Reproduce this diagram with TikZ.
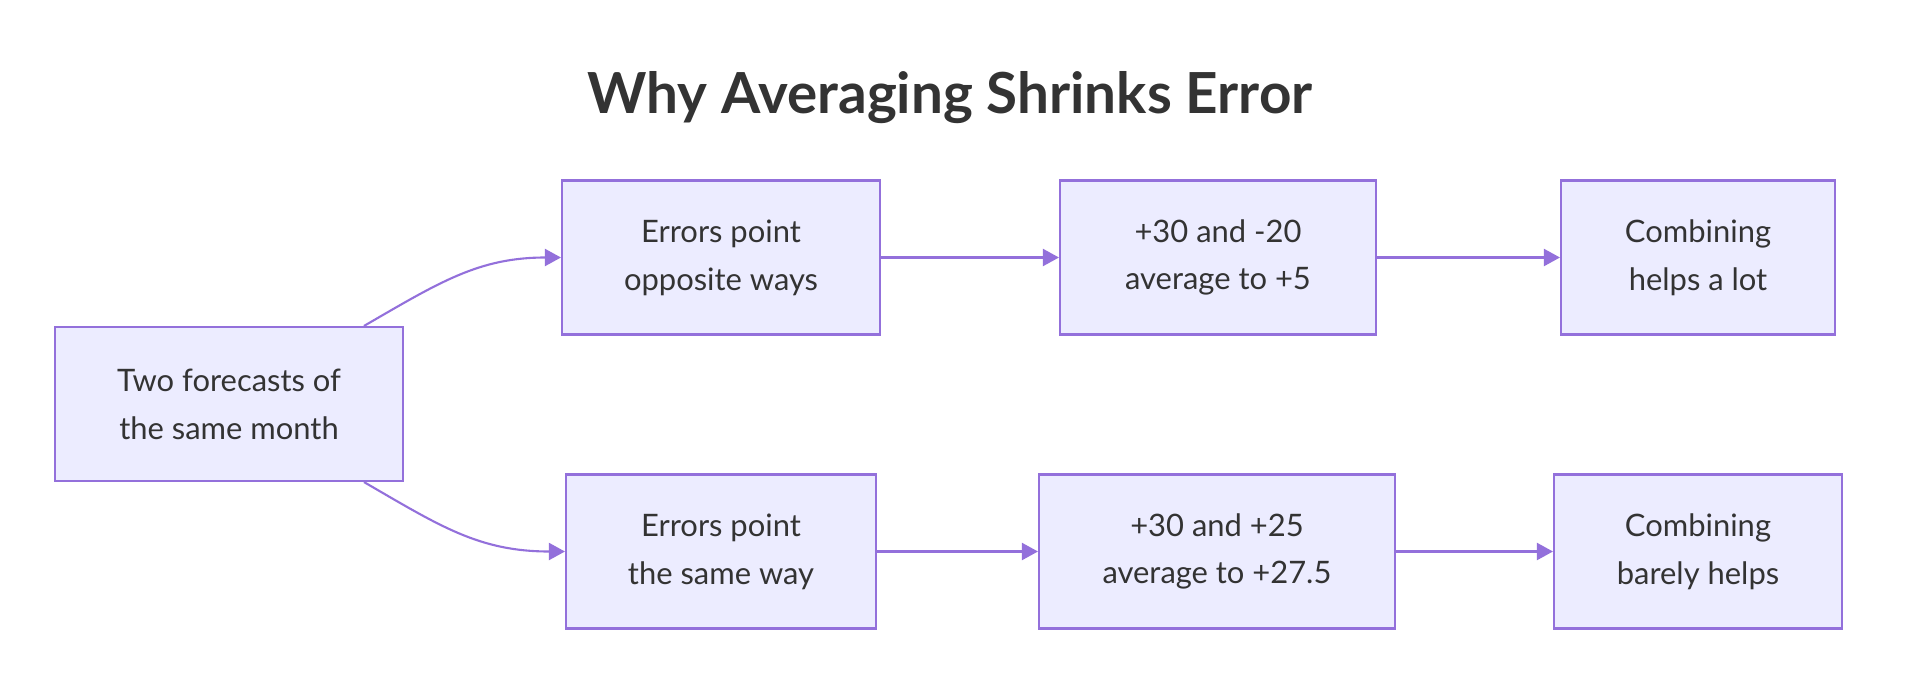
\documentclass[tikz,border=0pt]{standalone}
\usepackage{fontspec}
\setmainfont{Lato}
\usetikzlibrary{arrows.meta}
\definecolor{boxfill}{HTML}{ECECFF}
\definecolor{boxline}{HTML}{9370DB}
\definecolor{textgray}{HTML}{333333}

\begin{document}
\begin{tikzpicture}[
	box/.style={draw=boxline, fill=boxfill, line width=0.6pt, minimum height=1.54cm, align=center, text=textgray, font=\fontsize{8.8}{13.6}\selectfont},
	flow/.style={draw=boxline, line width=0.6pt, -{Triangle[length=1.6mm, width=1.7mm]}}]
		\useasboundingbox (0,0) rectangle (19.14,-6.9);

		\node[text=textgray, font=\bfseries\fontsize{16.1}{19}\selectfont] (title) at (9.5,-0.98) {Why Averaging Shrinks Error};

		\node[box, minimum width=3.48cm] (src) at (2.29,-4.04) {Two forecasts of\\the same month};

		\node[box, minimum width=3.18cm] (opp) at (7.21,-2.575) {Errors point\\opposite ways};
		\node[box, minimum width=3.16cm] (oppavg) at (12.18,-2.575) {+30 and -20\\average to +5};
		\node[box, minimum width=2.74cm] (lot) at (16.98,-2.575) {Combining\\helps a lot};

		\node[box, minimum width=3.10cm] (same) at (7.21,-5.515) {Errors point\\the same way};
		\node[box, minimum width=3.56cm] (sameavg) at (12.17,-5.515) {+30 and +25\\average to +27.5};
		\node[box, minimum width=2.88cm] (barely) at (16.98,-5.515) {Combining\\barely helps};

		\draw[flow] ([xshift=1.35cm]src.north) .. controls +(0.76,0.44) and +(-0.82,0) .. (opp.west);
		\draw[flow] ([xshift=1.35cm]src.south) .. controls +(0.76,-0.44) and +(-0.86,0) .. (same.west);

		\draw[flow] (opp.east) -- (oppavg.west);
		\draw[flow] (oppavg.east) -- (lot.west);
		\draw[flow] (same.east) -- (sameavg.west);
		\draw[flow] (sameavg.east) -- (barely.west);
	\end{tikzpicture}
\end{document}
